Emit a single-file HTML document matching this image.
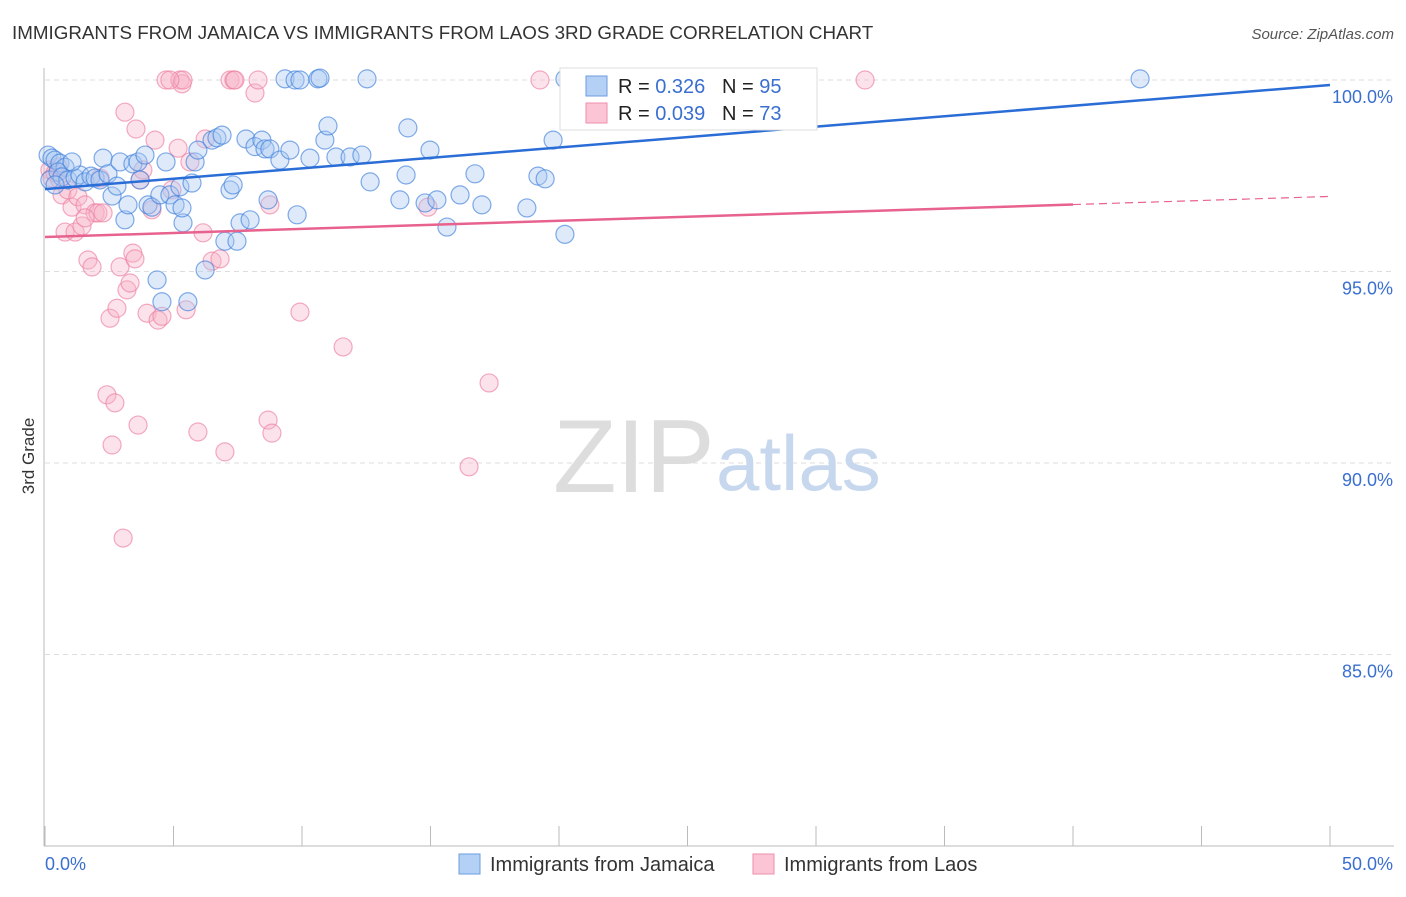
<!DOCTYPE html>
<html><head><meta charset="utf-8"><style>
body{margin:0;background:#fff;font-family:"Liberation Sans",sans-serif}
svg text{font-family:"Liberation Sans",sans-serif}
</style></head><body>
<svg id="chart" width="1406" height="892">
<text x="12" y="39" font-size="18.8" fill="#333">IMMIGRANTS FROM JAMAICA VS IMMIGRANTS FROM LAOS 3RD GRADE CORRELATION CHART</text>
<text x="1394" y="39" font-size="15" fill="#555" text-anchor="end" font-style="italic">Source: ZipAtlas.com</text>
<text x="34" y="456" font-size="17" fill="#333" text-anchor="middle" transform="rotate(-90 34 456)">3rd Grade</text>
<g id="grid"></g>
<text x="553" y="492" font-size="104" fill="#ddd" font-family="Liberation Serif">ZIP</text>
<text x="716" y="490" font-size="78" fill="#c7d8ee">atlas</text>
<g id="pts"></g>
<g id="lines"></g>
<g>
<rect x="560" y="68" width="257" height="62" fill="#fff" stroke="#ddd"/>
<rect x="586" y="76" width="21" height="20" fill="#b5d0f5" stroke="#6a9be0"/>
<rect x="586" y="103" width="21" height="20" fill="#fcc5d5" stroke="#ee8fac"/>
<text x="618" y="93" font-size="20" fill="#222">R = <tspan fill="#3a6fd0">0.326</tspan>&#160;&#160;&#160;N = <tspan fill="#3a6fd0">95</tspan></text>
<text x="618" y="120" font-size="20" fill="#222">R = <tspan fill="#3a6fd0">0.039</tspan>&#160;&#160;&#160;N = <tspan fill="#3a6fd0">73</tspan></text>
</g>
<g>
<rect x="459" y="854" width="21" height="20" fill="#b5d0f5" stroke="#6a9be0"/>
<text x="490" y="871" font-size="20" fill="#333">Immigrants from Jamaica</text>
<rect x="753" y="854" width="21" height="20" fill="#fcc5d5" stroke="#ee8fac"/>
<text x="784" y="871" font-size="20" fill="#333">Immigrants from Laos</text>
</g>
</svg>
<script>
const yTicks=[100,95,90,85];
const xTickLabels=["0.0%","50.0%"];
const blueX=[0.12,0.27,0.39,0.58,0.78,0.19,0.51,0.66,0.89,1.17,1.36,1.56,1.79,1.95,2.14,2.26,2.45,2.61,2.80,2.92,3.11,3.23,3.42,3.62,3.70,3.89,4.01,4.16,4.36,4.47,4.55,4.71,4.86,5.06,5.25,5.37,5.33,5.56,5.72,5.84,5.95,6.23,6.50,6.69,6.89,7.00,7.20,7.32,7.47,7.59,7.82,7.98,8.17,8.44,8.56,8.75,8.68,9.14,9.34,9.53,9.73,9.92,10.31,10.62,10.89,11.01,11.32,11.87,12.33,12.53,12.65,13.81,14.05,14.12,14.79,14.98,15.25,15.64,16.15,16.73,17.00,18.75,19.18,19.46,19.77,20.23,20.23,25.68,27.24,42.61,9.81,10.70,0.39,1.05];
const blueY=[98.04,97.96,97.91,97.83,97.72,97.39,97.6,97.47,97.39,97.44,97.52,97.34,97.49,97.44,97.39,97.96,97.55,96.97,97.23,97.86,96.35,96.74,97.81,97.86,97.39,98.04,96.74,96.68,94.78,97.0,94.21,97.86,97.0,96.74,97.21,96.27,96.66,94.21,97.31,97.86,98.17,95.04,98.43,98.49,98.56,95.79,97.13,97.26,95.79,96.27,98.46,96.35,98.26,98.43,98.2,98.2,96.87,97.91,100.03,98.17,100.0,100.0,97.96,100.03,98.43,98.8,97.99,97.99,98.04,100.03,97.34,96.87,97.52,98.75,96.79,98.17,96.87,96.16,97.0,97.55,96.74,96.66,97.49,97.42,98.43,95.97,100.03,100.03,99.48,100.03,96.48,100.05,97.26,97.86];
const pinkX=[0.19,0.27,0.39,0.51,0.58,0.66,0.78,0.89,1.05,1.17,1.28,1.44,1.56,1.67,1.83,1.95,2.06,2.14,2.26,2.41,2.53,2.61,2.72,2.80,2.92,3.04,3.11,3.19,3.31,3.42,3.54,3.62,3.70,3.81,3.97,4.16,4.28,4.40,4.55,4.71,4.94,5.18,5.25,5.33,5.49,5.64,5.95,6.15,6.23,6.50,6.81,7.00,7.20,7.35,7.39,8.17,8.29,8.68,8.75,8.83,9.92,11.60,14.90,16.50,17.28,19.26,31.91,5.37,3.50,1.56,4.86];
const pinkY=[97.65,97.44,97.57,97.73,97.39,97.0,96.03,97.13,96.68,96.03,96.95,96.19,96.74,95.3,95.12,96.53,96.53,97.44,96.53,91.78,93.78,90.47,91.57,94.04,95.12,88.04,99.16,94.52,94.7,95.48,98.72,90.99,97.39,97.65,93.91,96.61,98.43,93.73,93.83,100.0,97.13,98.22,100.0,99.9,94.0,97.86,90.81,96.01,98.46,95.27,95.33,90.29,100.0,100.0,100.0,99.66,100.0,91.12,96.74,90.78,93.94,93.03,96.68,89.9,92.09,100.0,100.0,100.0,95.33,96.4,100.0];
const X0=45,X1=1330,Y100=80,PXY=38.3;
const sx=v=>X0+(v/50)*(X1-X0);
const sy=v=>Y100+(100-v)*PXY;
const NS="http://www.w3.org/2000/svg";
function mk(t,a,p){const e=document.createElementNS(NS,t);for(const k in a)e.setAttribute(k,a[k]);p.appendChild(e);return e;}
const grid=document.getElementById('grid');
const ax=mk('line',{x1:44,y1:68,x2:44,y2:846,stroke:'#bbb'},grid);


const bx=mk('line',{x1:44,y1:846,x2:1394,y2:846,stroke:'#bbb'},grid);


yTicks.forEach(v=>{
 const g=mk('line',{x1:45,y1:sy(v),x2:1394,y2:sy(v),stroke:'#ddd','stroke-dasharray':'5,4'},grid);
 
 
 const t=mk('text',{x:1393,y:sy(v)+23,'font-size':18,fill:'#3a6fd0','text-anchor':'end'},grid);
 t.textContent=v.toFixed(1)+'%';
 
 
});
for(let i=0;i<=10;i++){const x=X0+i*(X1-X0)/10;
 const tk=mk('line',{x1:x,y1:826,x2:x,y2:846,stroke:'#bbb'},grid);
 
 }
xTickLabels.forEach((l,i)=>{const t=mk('text',{x:i?1393:45,y:870,'font-size':18,fill:'#3a6fd0','text-anchor':i?'end':'start'},grid);t.textContent=l;
 
 });
const pts=document.getElementById('pts');
function draw(xs,ys,fill,stroke,name){xs.forEach((x,i)=>{const c=mk('circle',{cx:sx(x),cy:sy(ys[i]),r:9,fill:fill,'fill-opacity':0.38,stroke:stroke,'stroke-opacity':0.65,'stroke-width':1.2},pts);
 
 });}
draw(pinkX,pinkY,'#f8b4c8','#ec7fa0','laos-point');
draw(blueX,blueY,'#a9c8f2','#3f7fdc','jamaica-point');
const lines=document.getElementById('lines');
const blueTrend=[97.15,99.87];
const pinkTrend=[95.9,96.96];
const bl=mk('line',{x1:sx(0),y1:sy(blueTrend[0]),x2:sx(50),y2:sy(blueTrend[1]),stroke:'#2a6dd6','stroke-width':2.5},lines);


const pm=pinkTrend[0]+(pinkTrend[1]-pinkTrend[0])*0.8;
const pl=mk('line',{x1:sx(0),y1:sy(pinkTrend[0]),x2:sx(40),y2:sy(pm),stroke:'#e8628e','stroke-width':2.5},lines);


const pd=mk('line',{x1:sx(40),y1:sy(pm),x2:sx(50),y2:sy(pinkTrend[1]),stroke:'#e8628e','stroke-width':1.2,'stroke-dasharray':'8,5'},lines);


</script>
</body></html>
